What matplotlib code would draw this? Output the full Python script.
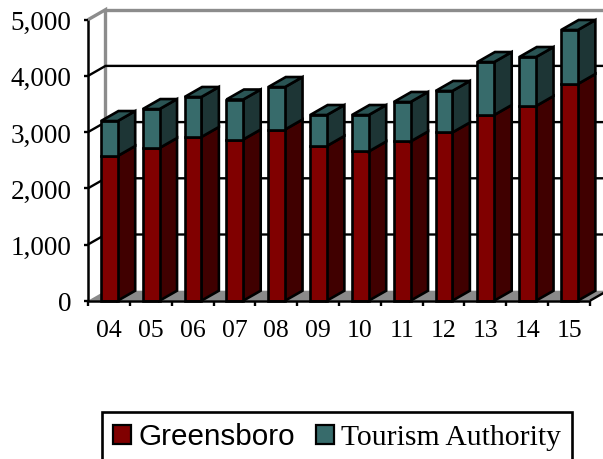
import matplotlib
matplotlib.use("Agg")
import matplotlib.pyplot as plt
from matplotlib.patches import Polygon, Patch

years = ["04", "05", "06", "07", "08", "09", "10", "11", "12", "13", "14", "15"]
greensboro = [2575, 2717, 2913, 2868, 3046, 2753, 2655, 2833, 2993, 3304, 3464, 3856]
tourism_authority = [622, 693, 712, 712, 756, 551, 649, 703, 739, 943, 872, 961]
y_ticks = [0, 1000, 2000, 3000, 4000, 5000]

W, H = 603, 460
fig = plt.figure(figsize=(W / 100, H / 100), dpi=100)
ax = fig.add_axes([88 / W, 1 - 301.7 / H, 502 / W, 281 / H])
ax.set_xlim(0, len(years))
ax.set_ylim(0, 5000)
for s in ax.spines.values():
    s.set_visible(False)

# Oblique depth of the 3-D look, in data units
DX = 17.5 / (502 / len(years))
DY = 10 / (281 / 5000)
BAR_L, BAR_R = 0.31, 0.71
EDGE = 1.9
N = len(years)


def poly(points, face, z, edge="black", lw=EDGE):
    ax.add_patch(Polygon(points, closed=True, facecolor=face, edgecolor=edge,
                         linewidth=lw, clip_on=False, zorder=z, joinstyle="miter"))


def line(xs, ys, color, lw, z):
    ax.plot(xs, ys, color=color, lw=lw, clip_on=False, zorder=z,
            solid_capstyle="butt", solid_joinstyle="miter")


# Floor and back wall
poly([(0, 0), (DX, DY), (N + DX, DY), (N, 0)], "#8a8a8a", 1, edge="none", lw=0)
line([0, DX, DX], [5000, 5000 + DY, DY], "#8c8c8c", 2.4, 1.5)
line([DX, N + DX], [5000 + DY, 5000 + DY], "#8c8c8c", 2.4, 1.5)
for v in y_ticks[1:-1]:
    line([0, DX, N + DX], [v, v + DY, v + DY], "black", 1.7, 2)

# Stacked bars with front, side and top faces
for i in range(N):
    x0, x1 = i + BAR_L, i + BAR_R
    g = greensboro[i]
    t = g + tourism_authority[i]
    poly([(x1, 0), (x1 + DX, DY), (x1 + DX, g + DY), (x1, g)], "#400000", 3)
    poly([(x0, 0), (x1, 0), (x1, g), (x0, g)], "#800000", 3)
    poly([(x1, g), (x1 + DX, g + DY), (x1 + DX, t + DY), (x1, t)], "#1d3535", 4)
    poly([(x0, g), (x1, g), (x1, t), (x0, t)], "#376b6b", 4)
    poly([(x0, t), (x1, t), (x1 + DX, t + DY), (x0 + DX, t + DY)], "#2a5454", 4)

# Front axes
line([0, 0], [0, 5000], "black", 1.8, 6)
line([0, N], [0, 0], "black", 1.8, 6)
line([N, N + DX], [0, DY], "black", 1.7, 6)

ax.set_yticks(y_ticks)
ax.set_yticklabels([f"{v:,}" for v in y_ticks], family="Liberation Serif", fontsize=19.5)
ax.set_xticks(range(N + 1))
ax.set_xticklabels([])
ax.set_xticks([i + 0.5 for i in range(N)], labels=years, minor=True,
              family="Liberation Serif", fontsize=18.5)
ax.tick_params(axis="y", length=3, width=1.7, pad=9)
ax.tick_params(axis="x", which="major", length=3.5, width=1.7)
ax.tick_params(axis="x", which="minor", length=0, pad=13)

handles = [Patch(facecolor="#800000", edgecolor="black", linewidth=1.6),
           Patch(facecolor="#376b6b", edgecolor="black", linewidth=1.6)]
leg = fig.legend(handles, ["Greensboro", "Tourism Authority"], ncol=2,
                 loc="center", bbox_to_anchor=(337 / W, 1 - 437.5 / H),
                 fontsize=21.3, fancybox=False, edgecolor="black", framealpha=1,
                 handlelength=0.62, handleheight=0.62, handletextpad=0.23,
                 columnspacing=0.72, borderpad=0.37, borderaxespad=0)
leg.get_frame().set_linewidth(1.9)
leg.get_texts()[0].set_fontfamily("Liberation Sans")
leg.get_texts()[1].set_fontfamily("Liberation Serif")

fig.savefig("out.png", dpi=100)
